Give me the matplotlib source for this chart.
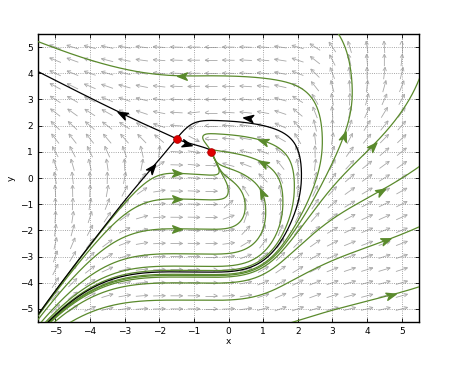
import numpy as np
import matplotlib
matplotlib.use("Agg")
import matplotlib.pyplot as plt
from matplotlib.path import Path
from matplotlib.markers import MarkerStyle
from matplotlib.collections import LineCollection

# equilibria
saddle = (-1.5, 1.5)
node = (-0.5, 1.0)

# shape of the x-nullcline (x' = 0), read from where the flow turns vertical
ncl_x = [-6.5, -5.0, -3.0, -1.5, -1.0, -0.5, 0.0, 0.5, 1.0, 1.5, 2.2, 3.7, 5.0, 6.5]
ncl_y = [-2.3, -1.0, 0.4, 1.5, 1.8, 1.0, -0.5, -1.1, -1.3, -1.0, 0.3, 3.5, 5.0, 6.2]
ncl_slope = {3: 1.1, 5: -3.0}

# green trajectories: point where the arrowhead sits
green_seeds = [(-1.33, 3.9), (-1.48, 0.18), (-1.48, -0.8), (-1.48, -1.94),
               (1.0, 1.42), (1.0, 0.58), (0.97, -0.56), (3.33, 1.61),
               (4.16, 1.23), (4.4, -0.48), (4.55, -2.38), (4.69, -4.47)]
green_arrow = [True] * len(green_seeds)

# separatrix arrowheads (black)
black_arrows = [(-3.08, 2.45), (-1.19, 1.3), (-2.2, 0.4), (0.56, 2.28)]

ticks = [-5, -4, -3, -2, -1, 0, 1, 2, 3, 4, 5]


def hermite_slopes(xs, ys, fixed):
    xs = np.asarray(xs, float)
    ys = np.asarray(ys, float)
    m = np.gradient(ys, xs)
    for i, v in fixed.items():
        m[i] = v
    return m


NX = np.asarray(ncl_x, float)
NY = np.asarray(ncl_y, float)
NM = hermite_slopes(ncl_x, ncl_y, ncl_slope)


def nullcline(x):
    x = np.asarray(x, float)
    i = np.clip(np.searchsorted(NX, x) - 1, 0, len(NX) - 2)
    h = NX[i + 1] - NX[i]
    t = (x - NX[i]) / h
    h00 = 2 * t**3 - 3 * t**2 + 1
    h10 = t**3 - 2 * t**2 + t
    h01 = -2 * t**3 + 3 * t**2
    h11 = t**3 - t**2
    return h00 * NY[i] + h10 * h * NM[i] + h01 * NY[i + 1] + h11 * h * NM[i + 1]


def sig(z):
    return 1.0 / (1.0 + np.exp(-z))


def softplus(z):
    return np.logaddexp(0.0, z)


def field(x, y):
    u = y - nullcline(x)
    left = sig(-(x + 0.5) / 0.6)
    right = sig((x - 2.5) / 0.4)
    up = sig(3 * u)
    a = 1.0 + 6.0 * sig((x - 3.5) / 0.7) * (1 - 0.7 * up)
    k = 0.65 + (0.45 + 0.3 * left - 0.75 * right) * up
    f = (u**2 + 0.01) ** 0.4 - 0.158
    dx = -u * (a + k * f)
    # y-nullcline: left branch leans right above the saddle
    r1 = saddle[0] + left * 0.125 * (softplus(2 * (y - saddle[1])) - np.log(2))
    dy = (x - r1) * (x - node[0])
    return dx, dy


# pixel scale of the axes (px per data unit) so steps are even on screen
SX, SY = 34.3, 26.3
LIM = 5.5


def integrate(p, sign, ds=0.5, nmax=5000):
    pts = [p]
    x, y = p
    for _ in range(nmax):
        def f(px, py):
            dx, dy = field(px, py)
            vx, vy = dx * SX, dy * SY
            n = np.hypot(vx, vy) + 1e-12
            return sign * vx / n / SX, sign * vy / n / SY
        k1 = f(x, y)
        k2 = f(x + 0.5 * ds * k1[0], y + 0.5 * ds * k1[1])
        k3 = f(x + 0.5 * ds * k2[0], y + 0.5 * ds * k2[1])
        k4 = f(x + ds * k3[0], y + ds * k3[1])
        x += ds / 6 * (k1[0] + 2 * k2[0] + 2 * k3[0] + k4[0])
        y += ds / 6 * (k1[1] + 2 * k2[1] + 2 * k3[1] + k4[1])
        pts.append((x, y))
        if abs(x) > LIM + 0.1 or abs(y) > LIM + 0.1:
            break
        if sign > 0 and np.hypot(x - node[0], y - node[1]) < 0.02:
            break
        if np.hypot(x - saddle[0], y - saddle[1]) < 0.01:
            break
    return np.array(pts)


def full_curve(p):
    back = integrate(p, -1)[::-1]
    fwd = integrate(p, 1)
    return np.vstack([back, fwd[1:]])


def jacobian(p, h=1e-5):
    x, y = p
    fx1 = np.array(field(x + h, y)); fx0 = np.array(field(x - h, y))
    fy1 = np.array(field(x, y + h)); fy0 = np.array(field(x, y - h))
    return np.column_stack([(fx1 - fx0) / (2 * h), (fy1 - fy0) / (2 * h)])


fig = plt.figure(figsize=(4.61, 3.70), dpi=100)
ax = fig.add_axes([38 / 461, 48 / 370, 381 / 461, 288 / 370])
ax.set_xlim(-LIM, LIM)
ax.set_ylim(-LIM, LIM)

# direction field, unit arrows with open heads
gx, gy = np.meshgrid(np.arange(-5, 5.01, 0.5), np.arange(-5, 5.01, 0.5))
U, V = field(gx, gy)
pu, pv = U * SX, V * SY
n = np.hypot(pu, pv) + 1e-12
pu, pv = pu / n, pv / n
L = 12.0
segs = []
for x0, y0, ux, vy in zip(gx.ravel(), gy.ravel(), pu.ravel(), pv.ravel()):
    tx, ty = x0 * SX - 0.5 * L * ux, y0 * SY - 0.5 * L * vy
    hx, hy = x0 * SX + 0.5 * L * ux, y0 * SY + 0.5 * L * vy
    segs.append([(tx / SX, ty / SY), (hx / SX, hy / SY)])
    for ang in (0.45, -0.45):
        ca, sa = np.cos(ang), np.sin(ang)
        bx = -(ux * ca - vy * sa) * 4.0
        by = -(ux * sa + vy * ca) * 4.0
        segs.append([(hx / SX, hy / SY), ((hx + bx) / SX, (hy + by) / SY)])
ax.add_collection(LineCollection(segs, colors='#a8a8a8', linewidths=0.6, zorder=1))

green = '#5a8a2c'
head = Path([(1.0, 0.0), (-1.0, 0.75), (-0.45, 0.0), (-1.0, -0.75), (1.0, 0.0)],
            [Path.MOVETO, Path.LINETO, Path.LINETO, Path.LINETO, Path.CLOSEPOLY])


def arrowhead(p, color):
    dx, dy = field(*p)
    ang = np.degrees(np.arctan2(dy * SY, dx * SX))
    ax.plot(p[0], p[1], marker=MarkerStyle(head).rotated(deg=ang), ms=7,
            color=color, mec=color, zorder=5, clip_on=False)


for p, arr in zip(green_seeds, green_arrow):
    c = full_curve(p)
    ax.plot(c[:, 0], c[:, 1], color=green, lw=0.9, zorder=3)
    if arr:
        arrowhead(p, green)

# separatrices of the saddle
J = jacobian(saddle)
w, vecs = np.linalg.eig(J)
for k in range(2):
    v = vecs[:, k] / np.hypot(*vecs[:, k])
    sgn = 1 if w[k] > 0 else -1
    for s in (1, -1):
        start = (saddle[0] + s * 0.01 * v[0], saddle[1] + s * 0.01 * v[1])
        c = integrate(start, sgn)
        ax.plot(c[:, 0], c[:, 1], color='k', lw=0.9, zorder=4)
for p in black_arrows:
    arrowhead(p, 'k')

ax.plot([saddle[0], node[0]], [saddle[1], node[1]], 'o', ms=5.5,
        mfc='#e00000', mec='#b00000', mew=0.6, zorder=6)

ax.set_xticks(ticks)
ax.set_yticks(ticks)
ax.set_xticklabels([f"\u2212{abs(t)}" if t < 0 else str(t) for t in ticks])
ax.set_yticklabels([f"\u2212{abs(t)}" if t < 0 else str(t) for t in ticks])
ax.tick_params(direction='in', top=True, right=True, labelsize=6.5, length=3, width=0.6)
ax.grid(True, ls=':', color='#8a8a8a', lw=0.6)
for s in ax.spines.values():
    s.set_linewidth(1.0)
ax.set_xlabel('x', fontsize=6.5, labelpad=1)
ax.set_ylabel('y', fontsize=6.5, labelpad=3)

fig.savefig('out.png', dpi=100)
